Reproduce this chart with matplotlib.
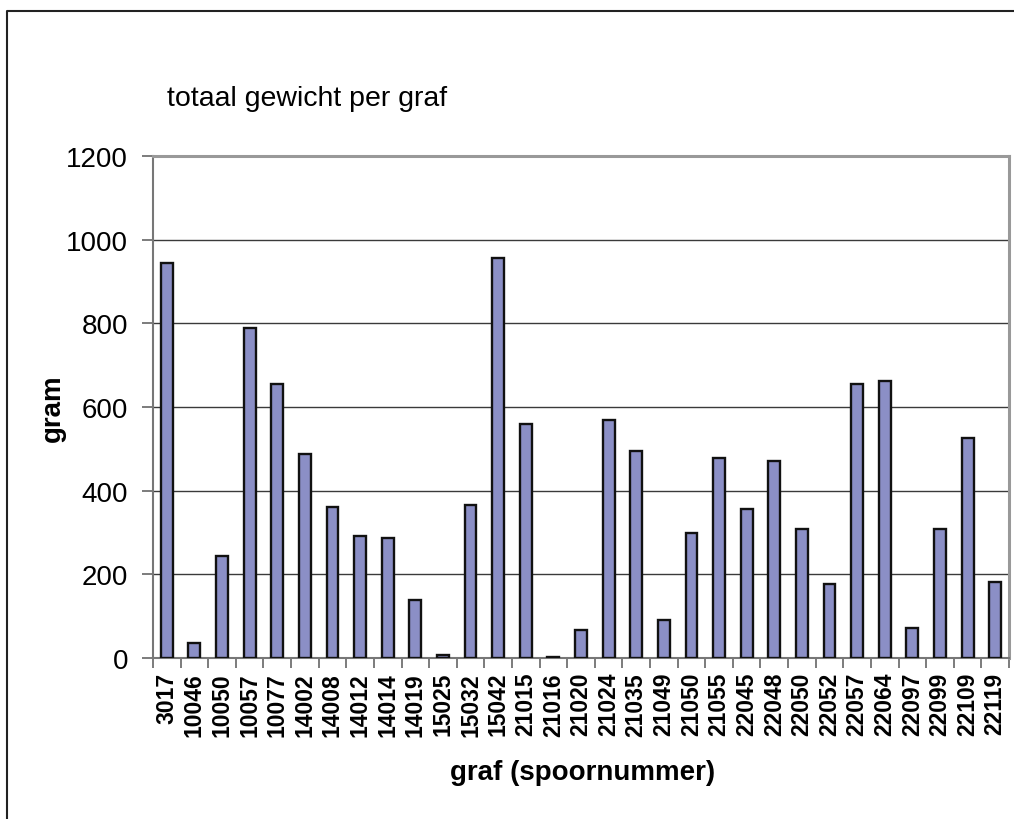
import matplotlib
matplotlib.use("Agg")
from matplotlib import pyplot as plt
from matplotlib.lines import Line2D
import numpy as np

plt.rcParams['font.family'] = ['Liberation Sans', 'DejaVu Sans']

# Data
graven = ['3017', '10046', '10050', '10057', '10077', '14002', '14008', '14012',
          '14014', '14019', '15025', '15032', '15042', '21015', '21016', '21020',
          '21024', '21035', '21049', '21050', '21055', '22045', '22048', '22050',
          '22052', '22057', '22064', '22097', '22099', '22109', '22119']
gewicht = [945, 35, 243, 790, 654, 487, 360, 291,
           288, 138, 7, 366, 955, 560, 3, 68,
           569, 494, 90, 300, 479, 355, 470, 309,
           176, 656, 663, 71, 308, 525, 181]
yticks = [0, 200, 400, 600, 800, 1000, 1200]

W, H = 1014, 820
fig = plt.figure(figsize=(W / 100, H / 100), dpi=100)
ax = fig.add_axes([153 / W, 1 - 659 / H, (1009 - 153) / W, (659 - 157) / H])

x = np.arange(len(graven))
ax.bar(x, gewicht, width=0.43, color='#8b8fc6', edgecolor='#111111', linewidth=1.7, zorder=3)

ax.set_xlim(-0.5, len(graven) - 0.5)
ax.set_ylim(0, 1200)
ax.set_yticks(yticks)
ax.set_yticklabels([str(v) for v in yticks], fontsize=20)
ax.set_xticks(x)
ax.set_xticklabels(graven, rotation=90, fontsize=16.5, fontweight='bold')
ax.tick_params(axis='x', which='major', length=0, pad=10)
ax.set_xticks(np.arange(-0.5, len(graven), 1), minor=True)
ax.tick_params(axis='x', which='minor', length=7, width=1.2, color='#666666', direction='out')
ax.tick_params(axis='y', length=8, width=1.2, color='#666666', direction='out', pad=10)

ax.yaxis.grid(True, color='#3a3a3a', linewidth=1.0, zorder=0)
ax.set_axisbelow(True)

for side in ['left', 'bottom']:
    ax.spines[side].set_color('#777777')
    ax.spines[side].set_linewidth(1.5)
for side in ['top', 'right']:
    ax.spines[side].set_color('#999999')
    ax.spines[side].set_linewidth(2.2)

# Texts
fig.text(167 / W, 1 - 106 / H, 'totaal gewicht per graf', fontsize=20.5, ha='left', va='baseline')
fig.text(53 / W, 1 - 408 / H, 'gram', fontsize=20, fontweight='bold', rotation=90,
         ha='center', va='center')
fig.text(583 / W, 1 - 773 / H, 'graf (spoornummer)', fontsize=20, fontweight='bold',
         ha='center', va='center')

# Outer frame (left and top edges)
fig.add_artist(Line2D([7 / W, 7 / W, 1], [0, 1 - 12 / H, 1 - 12 / H],
                      transform=fig.transFigure, color='#222222', linewidth=1.5))

fig.savefig('out.png', dpi=100)
